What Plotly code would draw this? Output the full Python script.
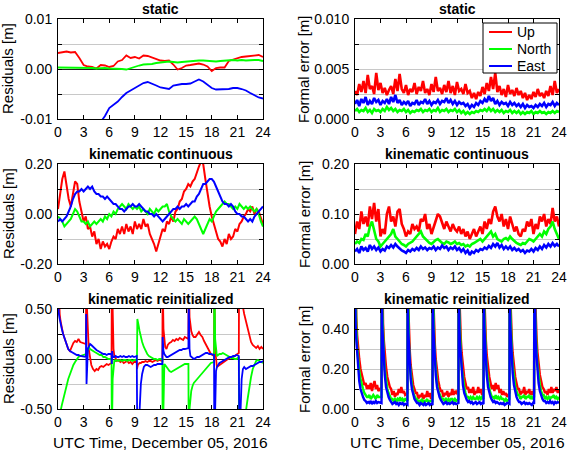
import numpy as np
import plotly.graph_objects as go

# ---------------- data ----------------
COMPONENTS = ["Up", "North", "East"]
COLORS = ["#ff0000", "#00ff00", "#0000ff"]
HOUR_TICKS = [0, 3, 6, 9, 12, 15, 18, 21, 24]
X_TITLE = "UTC Time, December 05, 2016"

# static residuals, 0.5 h grid, unit 1e-3 m
STATIC_RES_UP = [3.2, 3.3, 3.5, 3.3, 3.4, 2.2, 0.8, 0.5, 0.4, 0.1, 0.8, 0.7, 0.4, 0.6, 1.5, 1.8, 2.7,
                 2.2, 2.4, 2.1, 2.7, 2.6, 2.3, 2.0, 1.7, 1.6, 1.7, 0.9, -0.1, 0.2, 0.7, 0.8, 1.0, 1.1,
                 0.9, 0.5, -0.4, 0.2, 0.3, 0.3, 1.6, 1.9, 2.1, 2.4, 2.5, 2.6, 2.7, 2.8, 2.4]
STATIC_RES_NORTH = [0.3, 0.3, 0.3, 0.3, 0.3, 0.2, 0.2, 0.2, 0.2, 0.1, 0.2, 0.2, 0.1, 0.1, 0.0, 0.0, -0.1,
                    0.2, 0.5, 0.7, 0.9, 0.9, 1.0, 1.2, 1.3, 1.4, 1.5, 1.4, 1.3, 1.4, 1.5, 1.6, 1.7, 1.7,
                    1.7, 1.6, 1.5, 1.5, 1.6, 1.7, 1.7, 1.8, 1.7, 1.8, 1.7, 1.8, 1.8, 1.8, 1.6]
STATIC_RES_EAST = [None, None, None, None, None, None, None, None, None, None, -10.6, -9.4, -7.8, -7.2,
                   -6.5, -5.6, -4.8, -4.3, -3.8, -3.3, -2.8, -2.6, -2.9, -3.3, -3.7, -3.9, -4.0, -3.3,
                   -3.1, -3.0, -3.0, -2.9, -2.5, -2.1, -2.5, -3.2, -3.8, -4.1, -4.1, -4.1, -4.0, -3.8,
                   -3.8, -4.0, -4.3, -4.8, -5.3, -5.7, -5.9]

# static formal errors, 0.25 h grid, unit 1e-4 m
STATIC_FE_UP = [28, 24, 35, 27, 38, 26, 44, 30, 33, 25, 46, 29, 36, 26, 31, 24, 29, 33, 25, 40, 28, 45,
                30, 26, 34, 24, 30, 27, 36, 25, 32, 28, 38, 26, 30, 24, 35, 27, 42, 28, 31, 25, 34, 27,
                38, 26, 33, 24, 37, 28, 30, 25, 35, 26, 28, 21, 26, 20, 27, 23, 32, 25, 36, 28, 42, 30,
                46, 27, 33, 24, 30, 22, 34, 25, 29, 23, 31, 24, 28, 21, 26, 19, 24, 20, 27, 22, 30, 23,
                26, 21, 28, 23, 33, 24, 38, 26, 30]
STATIC_FE_NORTH = [8, 10, 7, 9, 8, 11, 7, 9, 6, 10, 8, 9, 7, 10, 8, 12, 9, 11, 8, 10, 7, 9, 8, 10, 7, 9,
                   6, 8, 7, 9, 8, 10, 7, 9, 8, 10, 7, 9, 8, 11, 7, 9, 8, 10, 7, 9, 8, 10, 7, 9, 6, 8, 5,
                   7, 5, 7, 6, 8, 7, 9, 8, 10, 8, 11, 8, 10, 7, 9, 7, 9, 6, 8, 7, 9, 6, 8, 6, 8, 5, 7, 5,
                   7, 6, 8, 5, 7, 6, 8, 6, 7, 5, 7, 6, 8, 6, 8, 7]
STATIC_FE_EAST = [15, 19, 13, 20, 16, 22, 14, 18, 15, 21, 17, 19, 14, 18, 16, 20, 15, 22, 17, 24, 16, 19,
                  14, 17, 15, 18, 13, 16, 15, 19, 14, 17, 16, 20, 15, 18, 14, 17, 16, 19, 15, 18, 17, 21,
                  16, 19, 15, 18, 14, 17, 15, 16, 13, 15, 11, 14, 12, 16, 14, 18, 16, 20, 17, 23, 18, 21,
                  15, 18, 14, 17, 15, 16, 13, 17, 14, 16, 13, 15, 12, 15, 11, 14, 12, 13, 11, 14, 12, 15,
                  13, 16, 12, 15, 14, 17, 13, 16, 14]

# kinematic continuous residuals, 0.25 h grid, unit cm
KC_RES_UP = [2, 9, 14, 17, 11, 6, 3, 8, 13, 12, 5, 1, -3, -1, -6, -5, -9, -7, -12, -10, -14, -11, -13,
             -12, -14, -11, -9, -10, -6, -8, -5, -8, -4, -7, -5, -8, -3, -6, -4, -6, -2, -5, -4, -8,
             -10, -12, -15, -12, -10, -6, -7, -3, -4, -1, -3, 1, 2, 5, 6, 9, 10, 12, 11, 13, 14, 17,
             19, 21, 20, 14, 8, 3, -1, -4, -7, -10, -11, -13, -10, -12, -8, -10, -9, -6, -7, -4, -3,
             -1, 0, 2, 1, 3, 0, 2, 1, -2, -4]
KC_RES_NORTH = [-1, -2, -3, -5, -4, -3, -2, 0, 2, 1, -1, -3, -3, -4, -3, -5, -4, -3, -4, -3, -2, -3,
                -1, -2, 0, -1, 1, 0, 2, 3, 4, 3, 2, 4, 3, 2, 3, 2, 3, 1, 2, 1, 0, 2, 1, 0, 2, 1, 2, 3,
                3, 4, 1, -1, -2, -3, -2, -3, -4, -2, -3, -4, -3, -2, -1, -2, -4, -6, -8, -6, -4, -2,
                -3, -1, 1, 2, 3, 4, 5, 4, 4, 3, 2, 3, 2, 4, 3, 2, 3, 2, 3, 2, 1, 2, 0, -3, -5]
KC_RES_EAST = [-3, -2, -3, -2, -1, 1, 3, 6, 8, 9, 9, 10, 9, 10, 11, 10, 11, 9, 8, 8, 7, 7, 6, 7, 6, 5,
               4, 4, 3, 2, 2, 1, 2, 3, 3, 4, 3, 3, 4, 3, 2, 1, 1, 0, 0, -1, 0, -1, -2, -3, -2, -1, 0,
               1, 2, 2, 3, 2, 3, 3, 4, 3, 4, 5, 5, 7, 8, 10, 12, 12, 13, 14, 14, 13, 11, 9, 7, 5, 4,
               4, 3, 4, 3, 1, 0, 0, -1, -1, -2, -3, -2, -3, -1, 0, 1, 2, 3]

# kinematic continuous formal errors, 0.25 h grid, unit mm
KC_FE_UP = [60, 85, 70, 105, 80, 95, 75, 115, 90, 122, 85, 110,
            55, 70, 60, 100, 115, 85, 95, 75, 105, 110, 80, 70,
            55, 65, 60, 80, 70, 75, 65, 90, 85, 100, 70, 80,
            60, 75, 90, 100, 95, 80, 70, 85, 75, 65, 80, 70,
            65, 75, 60, 70, 55, 65, 50, 60, 70, 55, 65, 75,
            60, 85, 70, 90, 80, 105, 115, 95, 85, 100, 75, 90,
            70, 95, 80, 65, 75, 60, 55, 70, 65, 85, 75, 90,
            60, 80, 70, 95, 85, 100, 75, 90, 80, 112, 85, 95, 75]
KC_FE_NORTH = [40, 45, 42, 50, 48, 60, 55, 75, 85, 65, 50, 45,
               35, 40, 45, 50, 55, 60, 70, 55, 50, 45, 40, 38,
               35, 40, 42, 45, 50, 55, 60, 65, 55, 50, 45, 42,
               40, 45, 48, 50, 45, 42, 40, 45, 43, 40, 42, 45,
               40, 42, 38, 40, 35, 38, 35, 40, 42, 45, 48, 50,
               45, 50, 55, 60, 65, 55, 60, 50, 48, 45, 50, 52,
               48, 55, 50, 45, 42, 40, 38, 42, 40, 45, 50, 48,
               45, 50, 55, 60, 55, 65, 60, 70, 75, 85, 70, 60, 50]
KC_FE_EAST = [25, 30, 22, 35, 28, 32, 25, 38, 30, 35, 28, 33,
              25, 30, 27, 35, 32, 38, 33, 40, 35, 30, 27, 25,
              22, 28, 25, 30, 27, 32, 28, 35, 30, 33, 28, 32,
              30, 35, 28, 33, 30, 37, 32, 35, 28, 33, 30, 35,
              28, 32, 25, 30, 22, 27, 18, 25, 22, 28, 25, 30,
              28, 33, 30, 36, 32, 40, 35, 42, 33, 38, 30, 35,
              30, 35, 28, 32, 27, 30, 25, 28, 22, 27, 25, 30,
              25, 32, 28, 35, 30, 38, 33, 40, 35, 42, 36, 40, 35]

# kinematic reinitialized residuals (m): reset epochs, sample offsets after each reset, values per segment
RES_RESETS = [0.0, 3.3, 6.3, 9.25, 12.25, 15.3, 18.3, 21.2]
RES_OFFSETS = [0, 0.04, 0.1, 0.2, 0.3, 0.45, 0.6, 0.8, 1.0, 1.2, 1.4, 1.6, 1.8, 2.0, 2.2, 2.4, 2.6]
KR_RES_UP = [
    [0.9, 0.8, 0.6, 0.45, 0.38, 0.3, 0.25, 0.2, 0.15, 0.1, 0.08, 0.12, 0.16, 0.18, 0.17, 0.2, 0.17, 0.15],
    [0.9, 0.8, 0.5, 0.25, 0.1, 0.02, -0.06, -0.1, -0.12, -0.1, -0.11, -0.08, -0.07, -0.08, -0.06, -0.05, -0.06, -0.04],
    [0.9, 0.7, 0.35, 0.1, 0.03, 0.0, -0.02, -0.01, -0.03, -0.02, -0.04, -0.03, -0.02, -0.04, -0.03, -0.05, -0.03, -0.03],
    [-0.1, -0.08, -0.06, -0.05, -0.04, -0.04, -0.03, -0.03, -0.02, -0.03, -0.02, -0.02, -0.03, -0.02, -0.01, -0.02, -0.01, -0.02],
    [0.9, 0.6, 0.3, 0.15, 0.12, 0.1, 0.14, 0.16, 0.17, 0.19, 0.18, 0.2, 0.19, 0.21, 0.2, 0.19, 0.22, 0.2],
    [0.9, 0.6, 0.42, 0.35, 0.28, 0.24, 0.22, 0.22, 0.25, 0.27, 0.24, 0.22, 0.18, 0.15, 0.12, 0.08, 0.05, 0.03],
    [0.9, 0.5, 0.1, -0.05, -0.08, -0.07, -0.06, -0.05, -0.04, -0.02, -0.01, 0.0, 0.01, 0.02, 0.02, 0.03, 0.04, 0.06],
    [0.9, 0.9, 0.8, 0.7, 0.6, 0.52, 0.45, 0.38, 0.3, 0.22, 0.17, 0.14, 0.12, 0.11, 0.13, 0.1, 0.12, 0.1],
]
KR_RES_NORTH = [
    [-0.9, -0.9, -0.8, -0.7, -0.52, -0.46, -0.4, -0.33, -0.27, -0.2, -0.15, -0.1, -0.06, -0.03, 0.0, 0.02, 0.03, 0.05],
    [0.05, 0.06, 0.08, 0.1, 0.12, 0.1, 0.09, 0.08, 0.07, 0.06, 0.05, 0.04, 0.04, 0.02, 0.02, 0.01, 0.0, 0.0],
    [-0.9, -0.6, -0.2, -0.03, -0.01, -0.02, -0.01, -0.02, -0.01, -0.02, -0.01, -0.01, -0.02, -0.01, -0.01, -0.02, -0.01, -0.01],
    [0.05, 0.4, 0.38, 0.33, 0.28, 0.22, 0.17, 0.12, 0.08, 0.05, 0.03, 0.02, 0.01, 0.0, 0.0, -0.01, 0.0, 0.0],
    [-0.9, -0.6, -0.2, -0.05, -0.06, -0.08, -0.1, -0.12, -0.13, -0.12, -0.11, -0.1, -0.09, -0.08, -0.07, -0.06, -0.05, -0.05],
    [-0.9, -0.7, -0.5, -0.4, -0.32, -0.27, -0.24, -0.22, -0.2, -0.18, -0.17, -0.15, -0.13, -0.1, -0.08, -0.06, -0.04, -0.03],
    [0.9, 0.6, 0.2, 0.05, 0.03, 0.04, 0.05, 0.05, 0.06, 0.05, 0.04, 0.03, 0.02, 0.01, 0.01, 0.0, 0.0, 0.02],
    [-0.9, -0.9, -0.9, -0.85, -0.8, -0.72, -0.62, -0.52, -0.4, -0.28, -0.18, -0.1, -0.05, -0.02, -0.01, -0.02, -0.03, -0.04],
]
KR_RES_EAST = [
    [0.6, 0.5, 0.45, 0.4, 0.35, 0.3, 0.25, 0.2, 0.13, 0.1, 0.08, 0.07, 0.06, 0.05, 0.04, 0.04, 0.03, 0.02],
    [0.45, -0.25, 0.0, 0.1, 0.12, 0.15, 0.14, 0.12, 0.1, 0.09, 0.08, 0.07, 0.06, 0.05, 0.05, 0.04, 0.05, 0.05],
    [-0.05, 0.08, 0.03, 0.02, 0.02, 0.03, 0.02, 0.02, 0.03, 0.02, 0.03, 0.02, 0.02, 0.03, 0.02, 0.03, 0.02, 0.03],
    [-0.9, -0.9, -0.8, -0.7, -0.52, -0.25, -0.15, -0.08, -0.06, -0.06, -0.07, -0.08, -0.07, -0.06, -0.06, -0.05, -0.05, -0.05],
    [0.22, 0.15, 0.08, 0.05, 0.04, 0.02, 0.02, 0.03, 0.04, 0.05, 0.06, 0.07, 0.08, 0.09, 0.09, 0.1, 0.1, 0.11],
    [0.6, 0.3, 0.1, 0.03, 0.02, 0.01, 0.0, 0.01, 0.02, 0.02, 0.03, 0.04, 0.05, 0.06, 0.06, 0.05, 0.05, 0.04],
    [-0.9, -0.7, -0.3, -0.12, -0.08, -0.06, -0.04, -0.03, -0.02, -0.01, 0.0, 0.01, 0.02, 0.02, 0.03, 0.03, 0.04, 0.03],
    [-0.9, -0.9, -0.7, -0.4, -0.2, -0.1, -0.08, -0.1, -0.09, -0.08, -0.07, -0.07, -0.06, -0.05, -0.04, -0.03, -0.03, -0.02],
]

# kinematic reinitialized formal errors (m)
FE_RESETS = [0.0, 3.15, 6.2, 9.15, 12.2, 15.15, 18.2, 21.1]
FE_OFFSETS = [0, 0.03, 0.08, 0.15, 0.25, 0.35, 0.5, 0.65, 0.8, 0.95, 1.1, 1.25, 1.4, 1.55, 1.7,
              1.85, 2.0, 2.15, 2.3, 2.45, 2.6, 2.75]
KR_FE_UP = [
    [0.9, 0.72, 0.58, 0.46, 0.37, 0.31, 0.25, 0.2, 0.17, 0.14, 0.12, 0.13, 0.1, 0.12, 0.1, 0.13, 0.09, 0.12, 0.14, 0.1, 0.12, 0.09, 0.11],
    [0.9, 0.7, 0.55, 0.43, 0.34, 0.27, 0.21, 0.16, 0.13, 0.11, 0.1, 0.07, 0.09, 0.06, 0.08, 0.07, 0.1, 0.08, 0.11, 0.08, 0.09, 0.07, 0.08],
    [0.9, 0.66, 0.5, 0.38, 0.29, 0.22, 0.16, 0.12, 0.1, 0.08, 0.08, 0.05, 0.07, 0.06, 0.08, 0.05, 0.07, 0.06, 0.09, 0.06, 0.08, 0.05, 0.07],
    [0.9, 0.7, 0.54, 0.42, 0.32, 0.25, 0.19, 0.14, 0.11, 0.09, 0.09, 0.06, 0.08, 0.07, 0.09, 0.06, 0.08, 0.07, 0.1, 0.07, 0.09, 0.08, 0.1],
    [0.9, 0.72, 0.57, 0.45, 0.35, 0.28, 0.21, 0.16, 0.13, 0.1, 0.11, 0.08, 0.1, 0.08, 0.11, 0.07, 0.09, 0.08, 0.11, 0.08, 0.1, 0.07, 0.09],
    [0.9, 0.7, 0.55, 0.43, 0.34, 0.27, 0.2, 0.16, 0.13, 0.1, 0.12, 0.09, 0.13, 0.1, 0.12, 0.08, 0.1, 0.07, 0.09, 0.07, 0.08, 0.06, 0.08],
    [0.9, 0.71, 0.56, 0.44, 0.35, 0.28, 0.21, 0.16, 0.13, 0.1, 0.1, 0.07, 0.09, 0.08, 0.11, 0.07, 0.09, 0.08, 0.1, 0.07, 0.09, 0.07, 0.08],
    [0.9, 0.73, 0.58, 0.46, 0.37, 0.29, 0.22, 0.17, 0.14, 0.11, 0.1, 0.08, 0.09, 0.07, 0.1, 0.08, 0.11, 0.08, 0.1, 0.09, 0.11, 0.08, 0.1],
]
KR_FE_NORTH = [
    [0.8, 0.62, 0.5, 0.4, 0.31, 0.25, 0.19, 0.15, 0.12, 0.1, 0.08, 0.07, 0.06, 0.06, 0.07, 0.05, 0.06, 0.07, 0.06, 0.05, 0.07, 0.06, 0.06],
    [0.78, 0.6, 0.47, 0.36, 0.27, 0.2, 0.14, 0.1, 0.08, 0.06, 0.05, 0.05, 0.04, 0.05, 0.04, 0.05, 0.04, 0.06, 0.04, 0.05, 0.04, 0.05, 0.04],
    [0.76, 0.57, 0.43, 0.32, 0.23, 0.17, 0.12, 0.08, 0.06, 0.05, 0.05, 0.03, 0.04, 0.04, 0.05, 0.03, 0.04, 0.04, 0.05, 0.03, 0.04, 0.04, 0.04],
    [0.78, 0.6, 0.46, 0.35, 0.26, 0.19, 0.13, 0.09, 0.07, 0.06, 0.05, 0.05, 0.04, 0.05, 0.04, 0.05, 0.04, 0.05, 0.05, 0.04, 0.05, 0.04, 0.05],
    [0.8, 0.62, 0.48, 0.37, 0.28, 0.21, 0.15, 0.11, 0.08, 0.06, 0.06, 0.05, 0.06, 0.05, 0.06, 0.05, 0.05, 0.06, 0.05, 0.06, 0.05, 0.06, 0.05],
    [0.78, 0.6, 0.47, 0.36, 0.27, 0.2, 0.14, 0.1, 0.08, 0.06, 0.06, 0.05, 0.07, 0.05, 0.06, 0.05, 0.06, 0.05, 0.05, 0.04, 0.05, 0.04, 0.05],
    [0.8, 0.62, 0.49, 0.38, 0.29, 0.22, 0.16, 0.11, 0.09, 0.07, 0.07, 0.05, 0.06, 0.06, 0.07, 0.05, 0.06, 0.06, 0.07, 0.05, 0.06, 0.05, 0.06],
    [0.82, 0.64, 0.5, 0.39, 0.3, 0.23, 0.17, 0.12, 0.09, 0.07, 0.07, 0.05, 0.06, 0.05, 0.06, 0.05, 0.06, 0.06, 0.07, 0.05, 0.06, 0.05, 0.06],
]
KR_FE_EAST = [
    [0.7, 0.52, 0.42, 0.35, 0.27, 0.2, 0.14, 0.1, 0.075, 0.06, 0.045, 0.04, 0.03, 0.035, 0.03, 0.04, 0.025, 0.035, 0.03, 0.04, 0.03, 0.035, 0.03],
    [0.68, 0.5, 0.4, 0.32, 0.24, 0.17, 0.11, 0.08, 0.06, 0.045, 0.035, 0.025, 0.03, 0.035, 0.025, 0.03, 0.02, 0.03, 0.025, 0.03, 0.02, 0.025, 0.02],
    [0.66, 0.48, 0.38, 0.3, 0.22, 0.15, 0.1, 0.07, 0.05, 0.04, 0.03, 0.03, 0.02, 0.03, 0.025, 0.02, 0.03, 0.02, 0.025, 0.03, 0.02, 0.025, 0.02],
    [0.68, 0.5, 0.4, 0.32, 0.24, 0.17, 0.11, 0.08, 0.06, 0.045, 0.035, 0.025, 0.03, 0.035, 0.025, 0.03, 0.025, 0.03, 0.035, 0.025, 0.03, 0.025, 0.03],
    [0.7, 0.51, 0.41, 0.33, 0.25, 0.18, 0.12, 0.08, 0.06, 0.045, 0.035, 0.04, 0.03, 0.035, 0.025, 0.03, 0.035, 0.025, 0.03, 0.035, 0.025, 0.03, 0.025],
    [0.68, 0.5, 0.4, 0.32, 0.24, 0.17, 0.11, 0.08, 0.06, 0.045, 0.035, 0.04, 0.03, 0.035, 0.03, 0.025, 0.03, 0.025, 0.03, 0.02, 0.025, 0.03, 0.025],
    [0.7, 0.51, 0.41, 0.33, 0.25, 0.18, 0.12, 0.08, 0.06, 0.045, 0.035, 0.035, 0.025, 0.03, 0.035, 0.025, 0.03, 0.025, 0.03, 0.025, 0.02, 0.03, 0.025],
    [0.72, 0.54, 0.43, 0.35, 0.27, 0.19, 0.13, 0.09, 0.065, 0.05, 0.04, 0.04, 0.03, 0.035, 0.03, 0.04, 0.03, 0.035, 0.025, 0.035, 0.03, 0.035, 0.03],
]

PANEL_TITLES = ["static", "static", "kinematic continuous", "kinematic continuous",
                "kinematic reinitialized", "kinematic reinitialized"]
Y_TITLES = ["Residuals [m]", "Formal error [m]"] * 3
Y_RANGES = [[-0.01, 0.01], [0, 0.01], [-0.2, 0.2], [0, 0.2], [-0.5, 0.5], [0, 0.5]]
Y_TICKVALS = [[-0.01, 0, 0.01], [0, 0.005, 0.01], [-0.2, 0, 0.2], [0, 0.1, 0.2],
              [-0.5, 0, 0.5], [0, 0.2, 0.4]]
Y_TICKTEXT = [["-0.01", "0.00", "0.01"], ["0.000", "0.005", "0.010"], ["-0.20", "0.00", "0.20"],
              ["0.00", "0.10", "0.20"], ["-0.50", "0.00", "0.50"], ["0.00", "0.20", "0.40"]]
Y_MINOR = [[-0.005, 0.005], [0.0025, 0.0075], [-0.1, 0.1], [0.05, 0.15], [-0.25, 0.25], [0.1, 0.3, 0.5]]


# ---------------- helpers ----------------
def uniform_grid(values):
    return list(np.linspace(0, 24, len(values)))


def segment_grid(resets, offsets):
    t = []
    for k, base in enumerate(resets):
        end = resets[k + 1] if k + 1 < len(resets) else 24.03
        t += [base + o for o in offsets] + [end - 0.03]
    return t


def flat(segs):
    return [v for s in segs for v in s]


def scaled(values, f):
    return [None if v is None else v * f for v in values]


res_t = segment_grid(RES_RESETS, RES_OFFSETS)
fe_t = segment_grid(FE_RESETS, FE_OFFSETS)

panels = [
    [(uniform_grid(STATIC_RES_UP), scaled(STATIC_RES_UP, 1e-3)),
     (uniform_grid(STATIC_RES_NORTH), scaled(STATIC_RES_NORTH, 1e-3)),
     (uniform_grid(STATIC_RES_EAST), scaled(STATIC_RES_EAST, 1e-3))],
    [(uniform_grid(STATIC_FE_UP), scaled(STATIC_FE_UP, 1e-4)),
     (uniform_grid(STATIC_FE_NORTH), scaled(STATIC_FE_NORTH, 1e-4)),
     (uniform_grid(STATIC_FE_EAST), scaled(STATIC_FE_EAST, 1e-4))],
    [(uniform_grid(KC_RES_UP), scaled(KC_RES_UP, 1e-2)),
     (uniform_grid(KC_RES_NORTH), scaled(KC_RES_NORTH, 1e-2)),
     (uniform_grid(KC_RES_EAST), scaled(KC_RES_EAST, 1e-2))],
    [(uniform_grid(KC_FE_UP), scaled(KC_FE_UP, 1e-3)),
     (uniform_grid(KC_FE_NORTH), scaled(KC_FE_NORTH, 1e-3)),
     (uniform_grid(KC_FE_EAST), scaled(KC_FE_EAST, 1e-3))],
    [(res_t, flat(KR_RES_UP)), (res_t, flat(KR_RES_NORTH)), (res_t, flat(KR_RES_EAST))],
    [(fe_t, flat(KR_FE_UP)), (fe_t, flat(KR_FE_NORTH)), (fe_t, flat(KR_FE_EAST))],
]
LINE_WIDTHS = [1.8, 2.6, 2.0, 2.6, 1.8, 2.4]

# ---------------- figure ----------------
W, H = 568, 454
FONT = "Liberation Sans, Arial, sans-serif"
col_px = [(58, 263), (355, 559)]
row_px = [(19, 119), (164, 264), (309, 409)]

fig = go.Figure()
layout = dict(
    template="none",
    width=W, height=H, autosize=False, margin=dict(l=0, r=0, t=0, b=0, pad=0),
    paper_bgcolor="white", plot_bgcolor="white",
    font=dict(family=FONT, size=14, color="black"),
    showlegend=False,
)
annotations = []
shapes = []

for i in range(6):
    r, c = divmod(i, 2)
    n = i + 1
    xa, ya = f"x{n}", f"y{n}"
    x0, x1 = col_px[c]
    y0, y1 = row_px[r]
    xdom = [x0 / W, x1 / W]
    ydom = [1 - y1 / H, 1 - y0 / H]
    layout[f"xaxis{n}"] = dict(
        domain=xdom, anchor=ya, range=[0, 24], tickvals=HOUR_TICKS, automargin=False,
        ticks="inside", ticklen=4, tickcolor="black", showline=True, linecolor="black",
        linewidth=1, mirror="ticks", showgrid=False, zeroline=False,
        tickfont=dict(size=14), ticklabelstandoff=0, ticklabeloverflow="allow",
    )
    layout[f"yaxis{n}"] = dict(
        domain=ydom, anchor=xa, range=Y_RANGES[i], tickvals=Y_TICKVALS[i], automargin=False,
        ticktext=Y_TICKTEXT[i], ticks="inside", ticklen=4, tickcolor="black",
        showline=True, linecolor="black", linewidth=1, mirror="ticks",
        showgrid=True, gridcolor="#c8c8c8", gridwidth=1,
        zeroline=(c == 0), zerolinecolor="#202020", zerolinewidth=1,
        minor=dict(tickvals=Y_MINOR[i], showgrid=True, gridcolor="#c8c8c8", gridwidth=1,
                   ticks="inside", ticklen=4, tickcolor="black"),
        tickfont=dict(size=14), ticklabelstandoff=2, ticklabeloverflow="allow",
    )
    for k, (t, v) in enumerate(panels[i]):
        fig.add_trace(go.Scatter(
            x=t, y=v, mode="lines", xaxis=xa, yaxis=ya,
            name=COMPONENTS[k], showlegend=False,
            line=dict(color=COLORS[k], width=LINE_WIDTHS[i]),
        ))
    annotations.append(dict(
        text=f"<b>{PANEL_TITLES[i]}</b>", x=(x0 + x1) / 2 / W, y=1 - (y0 - 10) / H,
        xref="paper", yref="paper", showarrow=False, xanchor="center", yanchor="middle",
        font=dict(size=14),
    ))
    annotations.append(dict(
        text=Y_TITLES[i], x=(8 if c == 0 else 304) / W, y=1 - (y0 + y1) / 2 / H,
        xref="paper", yref="paper", showarrow=False, textangle=-90,
        xanchor="center", yanchor="middle", font=dict(size=15),
    ))
    if r == 2:
        annotations.append(dict(
            text=X_TITLE, x=(x0 + x1) / 2 / W, y=1 - 442 / H, xref="paper", yref="paper",
            showarrow=False, xanchor="center", yanchor="middle", font=dict(size=15.5),
        ))

# legend box (top-right panel), drawn as a compact key like the original figure
LEG_BOX = (483, 23, 557, 73)
shapes.append(dict(type="rect", xref="paper", yref="paper",
                   x0=LEG_BOX[0] / W, x1=LEG_BOX[2] / W, y0=1 - LEG_BOX[3] / H, y1=1 - LEG_BOX[1] / H,
                   line=dict(color="black", width=1), fillcolor="white", layer="above"))
for k, name in enumerate(COMPONENTS):
    yk = 1 - (32 + 17 * k) / H
    shapes.append(dict(type="line", xref="paper", yref="paper", x0=489 / W, x1=512 / W,
                       y0=yk, y1=yk, line=dict(color=COLORS[k], width=2), layer="above"))
    annotations.append(dict(text=name, x=515 / W, y=yk, xref="paper", yref="paper",
                            showarrow=False, xanchor="left", yanchor="middle",
                            font=dict(size=14)))

layout["annotations"] = annotations
layout["shapes"] = shapes
fig.update_layout(**layout)
fig.write_html("out.html", config={"displayModeBar": False},
               post_script="document.body.style.margin='0px';document.body.style.padding='0px';")
